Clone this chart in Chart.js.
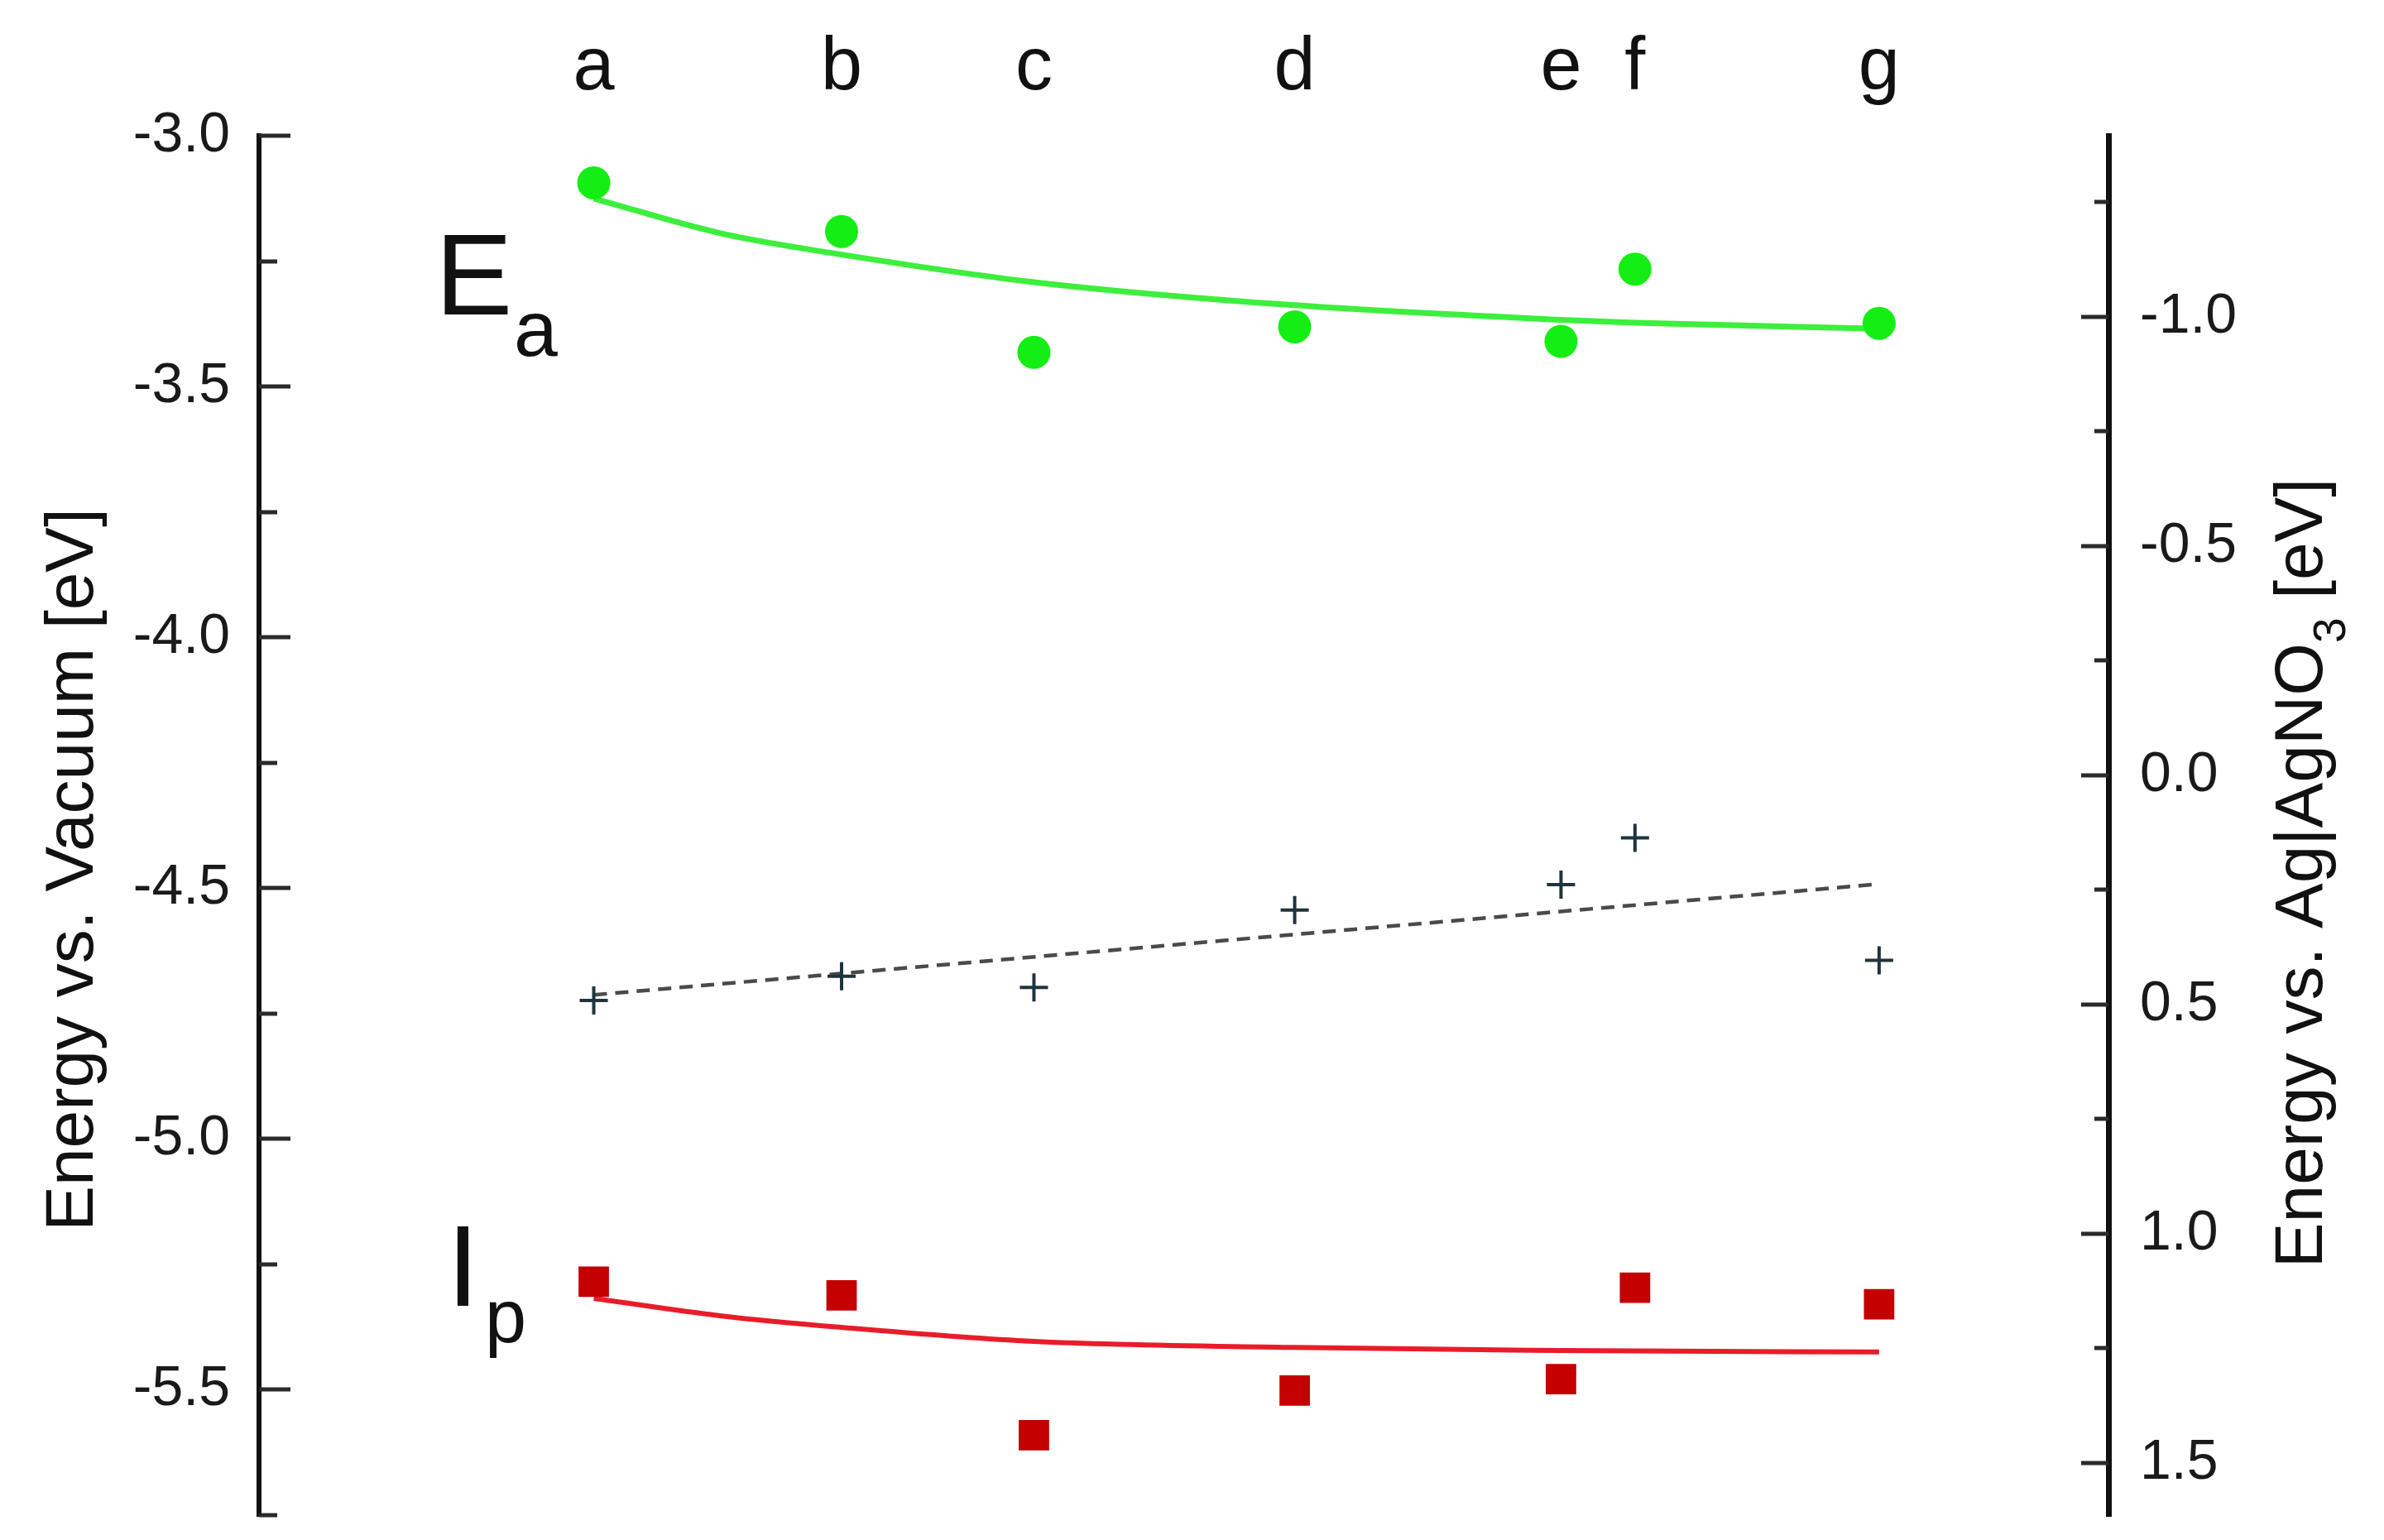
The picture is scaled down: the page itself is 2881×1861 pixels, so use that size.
<!DOCTYPE html>
<html lang="en">
<head>
  <meta charset="UTF-8">
  <title>Energy levels a-g</title>
  <script src="https://cdn.jsdelivr.net/npm/chart.js"></script>
  <style>
    body { margin: 0; background: #fff; }
    #wrap { width: 2881px; height: 1861px; }
  </style>
</head>
<body>
  <div id="wrap"><canvas id="energyChart" width="2881" height="1861"></canvas></div>
  <script>
    // samples along the top and their horizontal positions (arbitrary units)
    const samples = ['a', 'b', 'c', 'd', 'e', 'f', 'g'];
    const sampleX = [18.1, 31.5, 41.9, 56.0, 70.4, 74.4, 87.6];

    // energy vs. vacuum [eV]
    const eaValues = [-3.094, -3.191, -3.432, -3.381, -3.410, -3.266, -3.374];
    const ipValues = [-5.285, -5.312, -5.591, -5.502, -5.479, -5.297, -5.330];
    const midValues = [-4.724, -4.676, -4.698, -4.544, -4.493, -4.400, -4.644];

    // fitted curves
    const fitX = [18.1, 25.0, 31.5, 41.9, 56.0, 70.4, 74.4, 87.6];
    const eaFit = [-3.125, -3.195, -3.237, -3.292, -3.338, -3.367, -3.373, -3.385];
    const ipFit = [-5.318, -5.353, -5.376, -5.404, -5.416, -5.422, -5.423, -5.425];
    const midFitX = [18.1, 87.6];
    const midFit = [-4.713, -4.492];

    // axis ticks (ascending, the way Chart.js expects them)
    const leftTicks = [-5.5, -5.0, -4.5, -4.0, -3.5, -3.0];
    const leftMinor = [-5.75, -5.25, -4.75, -4.25, -3.75, -3.25];
    const rightTicks = [-1.0, -0.5, 0.0, 0.5, 1.0, 1.5];
    const rightMinor = [-1.25, -0.75, -0.25, 0.25, 0.75, 1.25];

    const FONT = "'Liberation Sans', Arial, sans-serif";
    const pts = (xs, ys) => xs.map((x, i) => ({ x: x, y: ys[i] }));

    // rotated title (bottom to top), parts = [{t, size, dy}]
    function drawVerticalTitle(ctx, parts, cx, cy) {
      let total = 0;
      parts.forEach(p => {
        ctx.font = p.size + 'px ' + FONT;
        p.w = ctx.measureText(p.t).width;
        total += p.w;
      });
      ctx.save();
      ctx.translate(cx, cy);
      ctx.rotate(-Math.PI / 2);
      ctx.textAlign = 'left';
      ctx.textBaseline = 'alphabetic';
      let x = -total / 2;
      parts.forEach(p => {
        ctx.font = p.size + 'px ' + FONT;
        ctx.fillText(p.t, x, p.dy);
        x += p.w;
      });
      ctx.restore();
    }

    // inward tick marks, axis titles and the E_a / I_p labels
    const decor = {
      id: 'decor',
      afterDraw(chart) {
        const ctx = chart.ctx;
        const yl = chart.scales.yLeft;
        const yr = chart.scales.yRight;
        ctx.save();
        ctx.strokeStyle = '#2a2a2a';
        ctx.lineWidth = 5;
        const mark = (scale, values, x0, len) => {
          values.forEach(v => {
            const y = Math.round(scale.getPixelForValue(v));
            ctx.beginPath();
            ctx.moveTo(x0, y);
            ctx.lineTo(x0 + len, y);
            ctx.stroke();
          });
        };
        mark(yl, leftTicks, yl.right, 38);
        mark(yl, leftMinor, yl.right, 22);
        mark(yr, rightTicks, yr.left, -33);
        mark(yr, rightMinor, yr.left, -17);

        ctx.fillStyle = '#111';
        drawVerticalTitle(ctx, [{ t: 'Energy vs. Vacuum [eV]', size: 82, dy: 0 }], 112, 1051);
        drawVerticalTitle(ctx, [
          { t: 'Energy vs. Ag|AgNO', size: 82, dy: 0 },
          { t: '3', size: 55, dy: 28 },
          { t: ' [eV]', size: 82, dy: 0 }
        ], 2806, 1055);

        // E_a and I_p
        ctx.textAlign = 'left';
        ctx.textBaseline = 'alphabetic';
        ctx.font = '140px ' + FONT;
        ctx.fillText('E', 526, 380);
        ctx.fillText('I', 540, 1578);
        ctx.font = '95px ' + FONT;
        ctx.fillText('a', 621, 430);
        ctx.font = '90px ' + FONT;
        ctx.fillText('p', 586, 1622);
        ctx.restore();
      }
    };

    const noPad = s => { s.paddingTop = 0; s.paddingBottom = 0; s.paddingLeft = 0; s.paddingRight = 0; };

    new Chart(document.getElementById('energyChart'), {
      type: 'scatter',
      data: {
        datasets: [
          {
            label: 'Ea',
            data: pts(sampleX, eaValues),
            yAxisID: 'yLeft',
            pointStyle: 'circle',
            pointRadius: 20,
            backgroundColor: '#14ee14',
            borderWidth: 0,
            order: 1
          },
          {
            label: 'Ip',
            data: pts(sampleX, ipValues),
            yAxisID: 'yLeft',
            pointStyle: 'rect',
            pointRadius: 26,
            backgroundColor: '#c40000',
            borderWidth: 0,
            order: 1
          },
          {
            label: 'mid',
            data: pts(sampleX, midValues),
            yAxisID: 'yLeft',
            pointStyle: 'cross',
            pointRadius: 17,
            borderColor: '#1f343c',
            borderWidth: 4,
            order: 1
          },
          {
            label: 'Ea fit',
            data: pts(fitX, eaFit),
            yAxisID: 'yLeft',
            showLine: true,
            pointRadius: 0,
            borderColor: '#3cef3c',
            borderWidth: 7,
            cubicInterpolationMode: 'monotone',
            order: 2
          },
          {
            label: 'Ip fit',
            data: pts(fitX, ipFit),
            yAxisID: 'yLeft',
            showLine: true,
            pointRadius: 0,
            borderColor: '#ea1c2a',
            borderWidth: 6,
            cubicInterpolationMode: 'monotone',
            order: 2
          },
          {
            label: 'mid fit',
            data: pts(midFitX, midFit),
            yAxisID: 'yLeft',
            showLine: true,
            pointRadius: 0,
            borderColor: '#4a4a4a',
            borderWidth: 4.5,
            borderDash: [16, 10],
            order: 2
          }
        ]
      },
      options: {
        responsive: false,
        devicePixelRatio: 1,
        animation: false,
        layout: { padding: { left: 0, right: 0, top: 0, bottom: 29 } },
        plugins: { legend: { display: false }, tooltip: { enabled: false } },
        scales: {
          x: {
            type: 'linear',
            position: 'top',
            min: 0,
            max: 100,
            afterFit: s => { s.height = 164; noPad(s); },
            afterBuildTicks: s => { s.ticks = sampleX.map(v => ({ value: v })); },
            grid: { display: false, drawTicks: false },
            border: { display: false },
            ticks: {
              padding: 27,
              autoSkip: false,
              maxRotation: 0,
              color: '#111',
              font: { family: FONT, size: 90 },
              callback: (v, i) => samples[i]
            }
          },
          yLeft: {
            type: 'linear',
            position: 'left',
            min: -5.752,
            max: -3.0,
            afterFit: s => { s.width = 313; noPad(s); },
            afterBuildTicks: s => { s.ticks = leftTicks.map(v => ({ value: v })); },
            grid: { display: true, drawOnChartArea: false, drawTicks: false },
            border: { display: true, width: 6, color: '#111' },
            ticks: {
              padding: 35,
              autoSkip: false,
              color: '#1a1a1a',
              font: { family: FONT, size: 68 },
              callback: v => v.toFixed(1)
            }
          },
          yRight: {
            type: 'linear',
            position: 'right',
            reverse: true,
            min: -1.395,
            max: 1.6155,
            afterFit: s => { s.width = 333; noPad(s); },
            afterBuildTicks: s => { s.ticks = rightTicks.map(v => ({ value: v })); },
            grid: { display: true, drawOnChartArea: false, drawTicks: false },
            border: { display: true, width: 7, color: '#111' },
            ticks: {
              padding: 38,
              autoSkip: false,
              color: '#1a1a1a',
              font: { family: FONT, size: 68 },
              callback: v => v.toFixed(1)
            }
          }
        }
      },
      plugins: [decor]
    });
  </script>
</body>
</html>
